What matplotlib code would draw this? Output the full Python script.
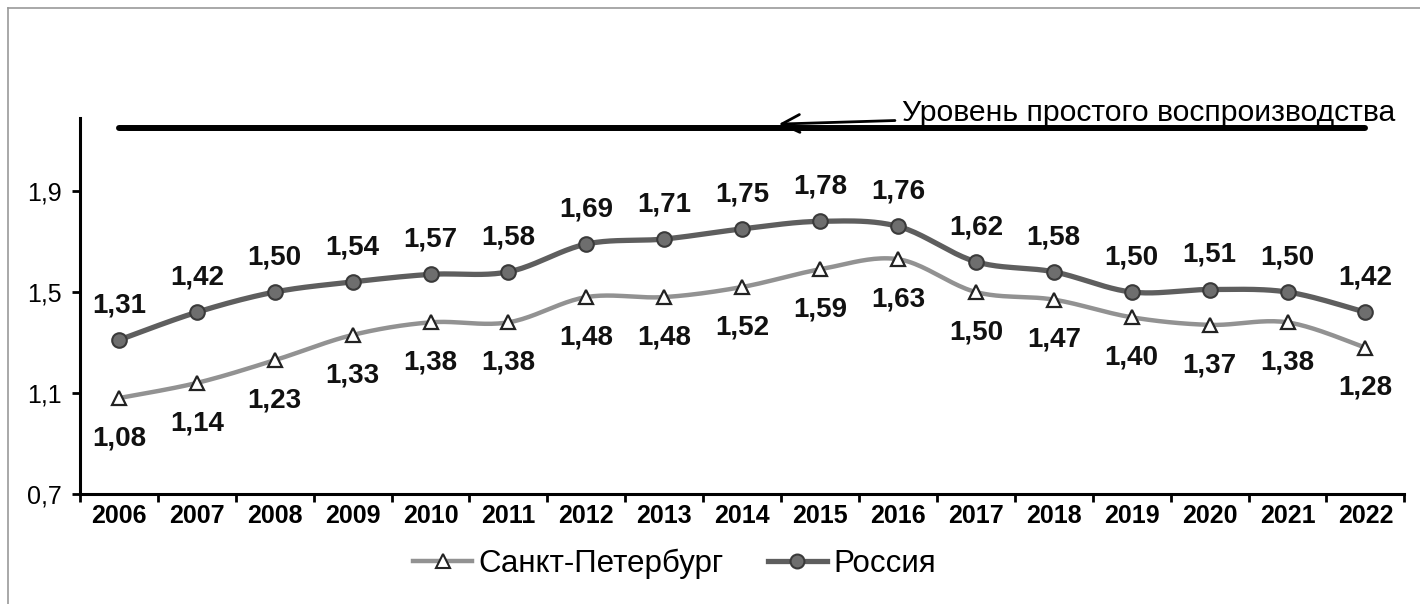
import matplotlib.pyplot as plt
import numpy as np
from matplotlib.lines import Line2D

years = [str(y) for y in range(2006, 2023)]
russia = [1.31, 1.42, 1.50, 1.54, 1.57, 1.58, 1.69, 1.71, 1.75, 1.78, 1.76, 1.62, 1.58, 1.50, 1.51, 1.50, 1.42]
spb = [1.08, 1.14, 1.23, 1.33, 1.38, 1.38, 1.48, 1.48, 1.52, 1.59, 1.63, 1.50, 1.47, 1.40, 1.37, 1.38, 1.28]
replacement_level = 2.15
yticks = [0.7, 1.1, 1.5, 1.9]

plt.rcParams['font.family'] = ['Liberation Sans', 'DejaVu Sans']


def smooth(x, y, n=24):
    # Excel-style smoothed line: cubic Bezier segments through the points
    x = np.asarray(x, float)
    y = np.asarray(y, float)
    xs, ys = [], []
    for i in range(len(x) - 1):
        p0 = np.array([x[max(i - 1, 0)], y[max(i - 1, 0)]])
        p1 = np.array([x[i], y[i]])
        p2 = np.array([x[i + 1], y[i + 1]])
        p3 = np.array([x[min(i + 2, len(x) - 1)], y[min(i + 2, len(x) - 1)]])
        c1 = p1 + (p2 - p0) / 6
        c2 = p2 - (p3 - p1) / 6
        t = np.linspace(0, 1, n)[:, None]
        pts = (1 - t) ** 3 * p1 + 3 * (1 - t) ** 2 * t * c1 + 3 * (1 - t) * t ** 2 * c2 + t ** 3 * p2
        xs.extend(pts[:, 0])
        ys.extend(pts[:, 1])
    return np.array(xs), np.array(ys)


fig = plt.figure(figsize=(14.2, 6.04), dpi=100)
ax = fig.add_axes([0.0563, 0.182, 0.9327, 0.623])

x = np.arange(len(years))

rus_color = '#5e5e5e'
spb_color = '#929292'

sx, sy = smooth(x, russia)
ax.plot(sx, sy, color=rus_color, lw=3.8, zorder=3)
ax.plot(x, russia, ls='none', marker='o', ms=10.5, mfc='#6e6e6e', mec='#3a3a3a', mew=1.5, zorder=4)

sx, sy = smooth(x, spb)
ax.plot(sx, sy, color=spb_color, lw=3.2, zorder=3)
ax.plot(x, spb, ls='none', marker='^', ms=10.5, mfc='white', mec='#222222', mew=1.6, zorder=4)

for i in range(len(years)):
    ax.annotate(f'{russia[i]:.2f}'.replace('.', ','), (x[i], russia[i]), xytext=(0, 25),
                textcoords='offset points', ha='center', va='center',
                fontsize=20, fontweight='bold', color='#111111')
    ax.annotate(f'{spb[i]:.2f}'.replace('.', ','), (x[i], spb[i]), xytext=(0, -29),
                textcoords='offset points', ha='center', va='center',
                fontsize=20, fontweight='bold', color='#111111')

# replacement level line
ax.plot([x[0], x[-1]], [replacement_level, replacement_level], color='black', lw=4.3, solid_capstyle='round', zorder=2)
ax.annotate('Уровень простого воспроизводства', xy=(8.47, 2.165), xytext=(10.05, 2.21),
            xycoords='data', textcoords='data', ha='left', va='center', fontsize=21.7,
            arrowprops=dict(arrowstyle='->', color='black', lw=2.0, mutation_scale=32,
                            shrinkA=3, shrinkB=0),
            annotation_clip=False)

ax.set_xlim(-0.5, len(years) - 0.5)
ax.set_ylim(0.7, 2.19)
ax.set_yticks(yticks)
ax.set_yticklabels([f'{v:.1f}'.replace('.', ',') for v in yticks], fontsize=18)
ax.set_xticks(x)
ax.set_xticklabels(years, fontsize=18, fontweight='bold')
ax.set_xticks(np.arange(-0.5, len(years), 1), minor=True)
ax.tick_params(axis='x', which='major', length=0, pad=7)
ax.tick_params(axis='x', which='minor', length=6, width=2, direction='out')
ax.tick_params(axis='y', length=6, width=2, pad=7)

for side in ['top', 'right']:
    ax.spines[side].set_visible(False)
for side in ['left', 'bottom']:
    ax.spines[side].set_linewidth(2.2)

handles = [
    Line2D([], [], color=spb_color, lw=3.2, marker='^', ms=10, mfc='white', mec='#222222', mew=1.5),
    Line2D([], [], color=rus_color, lw=3.8, marker='o', ms=10, mfc='#6e6e6e', mec='#3a3a3a', mew=1.5),
]
fig.legend(handles, ['Санкт-Петербург', 'Россия'], loc='center', bbox_to_anchor=(0.475, 0.066),
           ncol=2, frameon=False, fontsize=22.5, handlelength=1.9, handletextpad=0.2, columnspacing=1.4)

# thin frame of the picture
fig.add_artist(Line2D([8 / 1420, 8 / 1420], [0, 1 - 8 / 604], color='#999999', lw=1.2))
fig.add_artist(Line2D([8 / 1420, 1], [1 - 8 / 604, 1 - 8 / 604], color='#999999', lw=1.2))

fig.savefig('out.png', dpi=100)
